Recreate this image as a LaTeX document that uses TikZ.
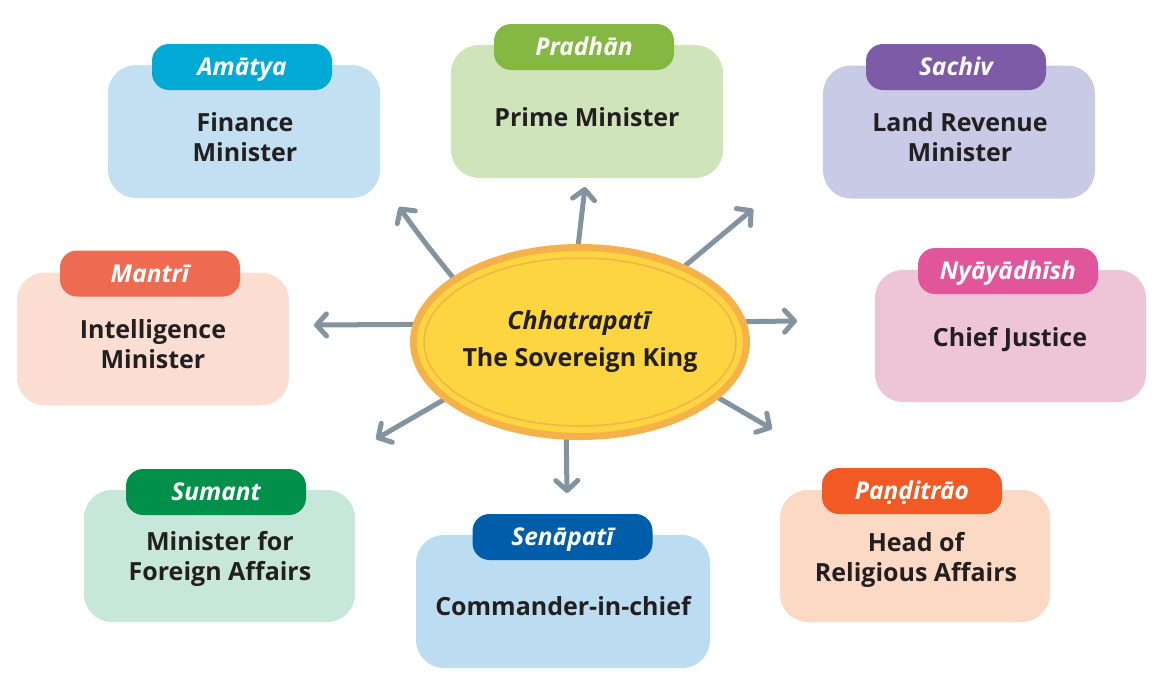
\documentclass[tikz,border=0pt]{standalone}
\usepackage{fontspec}
\setmainfont{Open Sans}
\usetikzlibrary{shapes.geometric,arrows.meta,backgrounds}
\definecolor{ink}{HTML}{231F20}
\definecolor{arrgray}{HTML}{8493A0}
\definecolor{kingfill}{HTML}{FDD541}
\definecolor{kingline}{HTML}{F6B24A}
\definecolor{tA}{HTML}{00AAD4}\definecolor{bA}{HTML}{C2E0F2}
\definecolor{tB}{HTML}{85B743}\definecolor{bB}{HTML}{CFE4B9}
\definecolor{tC}{HTML}{7D5BA6}\definecolor{bC}{HTML}{C8CAE6}
\definecolor{tD}{HTML}{EE6A50}\definecolor{bD}{HTML}{FBDDD2}
\definecolor{tE}{HTML}{E1559A}\definecolor{bE}{HTML}{EEC4D7}
\definecolor{tF}{HTML}{00904A}\definecolor{bF}{HTML}{C7E7DA}
\definecolor{tG}{HTML}{005DA9}\definecolor{bG}{HTML}{BBDCF1}
\definecolor{tH}{HTML}{F15A25}\definecolor{bH}{HTML}{FBD9C4}
\begin{document}
\begin{tikzpicture}[x=1pt,y=-1pt,
  mbox/.style={fill=#1, rounded corners=28pt, inner sep=0pt, minimum width=272pt, minimum height=133pt},
  tabbox/.style={fill=#1, rounded corners=17pt, minimum width=180pt, minimum height=46pt, inner sep=0pt, text height=17.5pt, text depth=0pt, text=white, font=\fontsize{24.5}{26}\selectfont\bfseries\itshape},
  lbl/.style={text=ink, font=\fontsize{25}{30}\selectfont\bfseries, align=center},
  arr/.style={draw=arrgray, line width=5pt, line cap=round, -{Straight Barb[length=10pt,width=22pt,line cap=round,line join=round]}}
]
\useasboundingbox (0,0) rectangle (1160,683);

% boxes
\node[mbox=bA] (b1) at (244,131.5) {};
\node[tabbox=tA] (tab1) at (242,67) {Amātya};
\node[lbl] (t1) at (245,137) {Finance\\Minister};

\node[mbox=bB] (b2) at (587,111.5) {};
\node[tabbox=tB] (tab2) at (584,47) {Pradhān};
\node[lbl] (t2) at (587,117) {Prime Minister};

\node[mbox=bC] (b3) at (959,132) {};
\node[tabbox=tC] (tab3) at (956,67) {Sachiv};
\node[lbl] (t3) at (960,137) {Land Revenue\\Minister};

\node[mbox=bD] (b4) at (153,339) {};
\node[tabbox=tD] (tab4) at (150,273.5) {Mantrī};
\node[lbl] (t4) at (153,344) {Intelligence\\Minister};

\node[mbox=bE, minimum width=271pt, minimum height=132pt] (b5) at (1010.5,336) {};
\node[tabbox=tE] (tab5) at (1008,271) {Nyāyādhīsh};
\node[lbl] (t5) at (1010,340) {Chief Justice};

\node[mbox=bF, minimum width=271pt, minimum height=132pt] (b6) at (219.5,556) {};
\node[tabbox=tF] (tab6) at (216,492) {Sumant};
\node[lbl] (t6) at (220,559) {Minister for\\Foreign Affairs};

\node[mbox=bG, minimum width=294pt] (b7) at (563,601.5) {};
\node[tabbox=tG] (tab7) at (562.5,537) {Senāpatī};
\node[lbl] (t7) at (563,606) {Commander-in-chief};

\node[mbox=bH, minimum width=270pt, minimum height=132pt] (b8) at (915,556) {};
\node[tabbox=tH] (tab8) at (912,491) {Pan^^^^0323d^^^^0323itrāo};
\node[lbl] (t8) at (916,560) {Head of\\Religious Affairs};

% king
\node[ellipse, fill=kingfill, draw=kingline, line width=7pt, minimum width=333pt, minimum height=189pt, inner sep=0pt] (king) at (580,342) {};
\draw[kingline, line width=1.5pt] (king.center) ellipse [x radius=156, y radius=84];
\node[text=ink, font=\fontsize{25}{37}\selectfont\bfseries, align=center] (kt) at (king.center) {\textit{Chhatrapatī}\\The Sovereign King};

% arrow tips
\coordinate (a1) at (399,207);
\coordinate (a2) at (585,187);
\coordinate (a3) at (753,209);
\coordinate (a4) at (314,325);
\coordinate (a5) at (797,321);
\coordinate (a6) at (376,439);
\coordinate (a7) at (567,493);
\coordinate (a8) at (772,429);

\begin{scope}[on background layer]
\draw[arr] (king.153) to[bend left=2] (a1);
\draw[arr] (king.91) -- (a2);
\draw[arr] (king.36) -- (a3);
\draw[arr] (king.174) -- (a4);
\draw[arr] (king.7) -- (a5);
\draw[arr] (king.203) -- (a6);
\draw[arr] (king.262) -- (a7);
\draw[arr] (king.338) -- (a8);
\end{scope}
\end{tikzpicture}
\end{document}
